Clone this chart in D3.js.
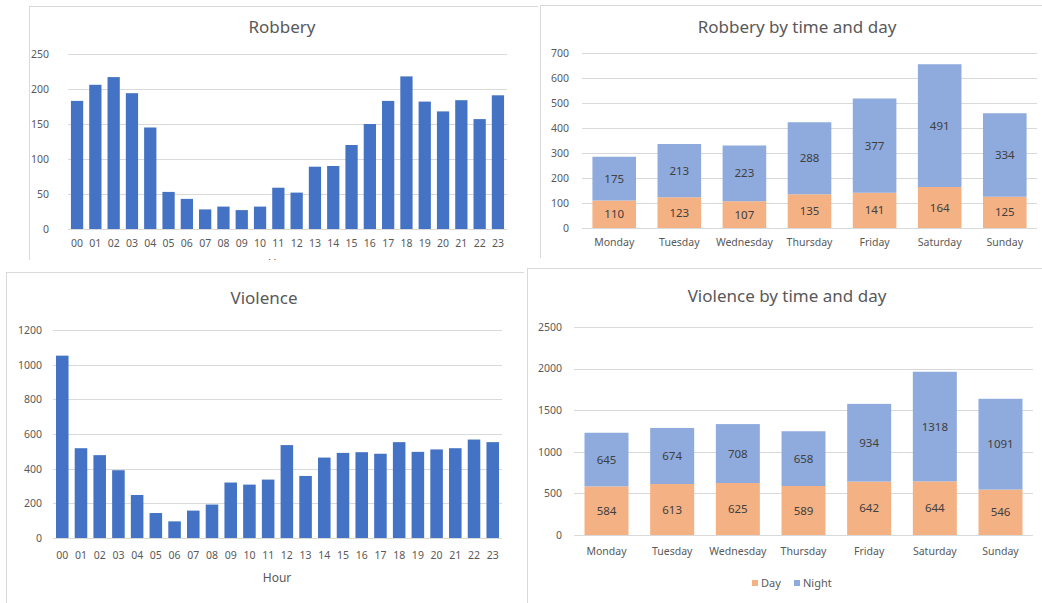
<!DOCTYPE html>
<html>
<head>
<meta charset="utf-8">
<script src="https://cdn.jsdelivr.net/npm/d3@7"></script>
<style>
  body { margin: 0; background: #fff; }
  svg text { font-family: "Noto Sans", "Open Sans", sans-serif; fill: #595959; }
</style>
</head>
<body>
<svg id="chart" width="1042" height="603"></svg>
<script>
// data
const hours = ['00','01','02','03','04','05','06','07','08','09','10','11',
  '12','13','14','15','16','17','18','19','20','21','22','23'];
const robberyByHour = [183, 206, 217, 194, 145, 53, 43, 28, 32, 27, 32, 59,
  52, 89, 90, 120, 150, 183, 218, 182, 168, 184, 157, 191];
const violenceByHour = [1052, 518, 478, 391, 248, 144, 96, 158, 193, 320, 308, 337,
  536, 358, 464, 491, 495, 486, 553, 497, 511, 518, 568, 553];

const days = ['Monday', 'Tuesday', 'Wednesday', 'Thursday', 'Friday', 'Saturday', 'Sunday'];
const robberyDay = [110, 123, 107, 135, 141, 164, 125];
const robberyNight = [175, 213, 223, 288, 377, 491, 334];
const violenceDay = [584, 613, 625, 589, 642, 644, 546];
const violenceNight = [645, 674, 708, 658, 934, 1318, 1091];
const seriesNames = ['Day', 'Night'];

const BLUE = '#4472c4';
const DAY_COLOR = '#f4b183';
const NIGHT_COLOR = '#8faadc';
const GRID = '#d9d9d9';

const svg = d3.select('#chart');

// panel frame + title + y axis with gridlines, returns scales
function panel(p) {
  const g = svg.append('g');
  const clipId = 'clip-' + p.id;
  svg.append('clipPath').attr('id', clipId)
    .append('rect').attr('x', p.frame[0]).attr('y', p.frame[1])
    .attr('width', p.frame[2]).attr('height', p.frame[3]);
  g.attr('clip-path', `url(#${clipId})`);

  g.append('rect')
    .attr('x', p.frame[0] + 0.5).attr('y', p.frame[1] + 0.5)
    .attr('width', p.frame[2]).attr('height', p.frame[3])
    .attr('fill', '#fff').attr('stroke', GRID);

  g.append('text')
    .attr('x', p.titleX).attr('y', p.titleY)
    .attr('text-anchor', 'middle')
    .attr('font-size', 17)
    .text(p.title);

  const x = d3.scaleBand().domain(p.cats).range([p.x0, p.x1]).paddingInner(0.33).paddingOuter(0.16);
  const y = d3.scaleLinear().domain([0, p.ymax]).range([p.y0, p.y1]);
  const ticks = d3.range(0, p.ymax + 1, p.step);

  // gridlines
  g.append('g').selectAll('line').data(ticks).join('line')
    .attr('x1', p.x0).attr('x2', p.x1)
    .attr('y1', d => Math.round(y(d)) + 0.5).attr('y2', d => Math.round(y(d)) + 0.5)
    .attr('stroke', GRID);

  const yAxis = g.append('g')
    .attr('transform', `translate(${p.yLabelX},0)`)
    .call(d3.axisLeft(y).tickValues(ticks).tickFormat(d3.format('d')).tickSize(0).tickPadding(0));
  yAxis.select('.domain').remove();
  yAxis.selectAll('text').attr('font-size', 10.5).attr('fill', '#595959');

  const xAxis = g.append('g')
    .attr('transform', `translate(0,${p.xLabelY})`)
    .call(d3.axisBottom(x).tickSize(0).tickPadding(0));
  xAxis.select('.domain').remove();
  xAxis.selectAll('text').attr('font-size', 10.5).attr('fill', '#595959').attr('dy', '0.32em');

  if (p.xTitle) {
    g.append('text')
      .attr('x', p.xTitleX).attr('y', p.xTitleY)
      .attr('text-anchor', 'middle').attr('dy', '0.35em')
      .attr('font-size', 12)
      .text(p.xTitle);
  }
  return { g, x, y };
}

function simpleBars(p, values) {
  const { g, x, y } = panel(p);
  g.append('g').selectAll('rect').data(values).join('rect')
    .attr('x', (d, i) => x(p.cats[i]))
    .attr('width', x.bandwidth())
    .attr('y', d => y(d))
    .attr('height', d => y(0) - y(d))
    .attr('fill', BLUE);
}

function stackedBars(p, dayVals, nightVals) {
  const { g, x, y } = panel(p);
  const rows = p.cats.map((c, i) => ({ cat: c, Day: dayVals[i], Night: nightVals[i] }));
  const stack = d3.stack().keys(seriesNames)(rows);
  const color = d3.scaleOrdinal().domain(seriesNames).range([DAY_COLOR, NIGHT_COLOR]);

  const layer = g.append('g').selectAll('g').data(stack).join('g')
    .attr('fill', d => color(d.key));
  layer.selectAll('rect').data(d => d).join('rect')
    .attr('x', d => x(d.data.cat))
    .attr('width', x.bandwidth())
    .attr('y', d => y(d[1]))
    .attr('height', d => y(d[0]) - y(d[1]));

  // labels in segment centres
  g.append('g').selectAll('g').data(stack).join('g')
    .selectAll('text').data(d => d.map(v => ({ v, key: d.key }))).join('text')
    .attr('x', d => x(d.v.data.cat) + x.bandwidth() / 2)
    .attr('y', d => y((d.v[0] + d.v[1]) / 2))
    .attr('dy', '0.35em')
    .attr('text-anchor', 'middle')
    .attr('font-size', 11.5)
    .style('fill', '#404040')
    .text(d => d.v.data[d.key]);

  if (p.legendY) {
    const lg = g.append('g').attr('transform', `translate(${p.legendX},${p.legendY})`);
    const items = lg.selectAll('g').data(seriesNames).join('g')
      .attr('transform', (d, i) => `translate(${i * 42},0)`);
    items.append('rect').attr('x', 0).attr('y', -3).attr('width', 6).attr('height', 6)
      .attr('fill', d => color(d));
    items.append('text').attr('x', 9).attr('dy', '0.35em').attr('font-size', 11).text(d => d);
  }
}

simpleBars({
  id: 'rob-hour', title: 'Robbery', cats: hours,
  frame: [29, 6, 509, 254], titleX: 282, titleY: 33,
  x0: 68, x1: 507, y0: 229, y1: 54, ymax: 250, step: 50,
  yLabelX: 49, xLabelY: 244, xTitle: 'Hour', xTitleX: 282, xTitleY: 264
}, robberyByHour);

stackedBars({
  id: 'rob-day', title: 'Robbery by time and day', cats: days,
  frame: [540, 5, 520, 253], titleX: 797, titleY: 33,
  x0: 582, x1: 1037, y0: 228, y1: 53, ymax: 700, step: 100,
  yLabelX: 569, xLabelY: 243
}, robberyDay, robberyNight);

simpleBars({
  id: 'vio-hour', title: 'Violence', cats: hours,
  frame: [6, 272, 518, 340], titleX: 264, titleY: 304,
  x0: 53, x1: 502, y0: 538, y1: 330, ymax: 1200, step: 200,
  yLabelX: 42, xLabelY: 556, xTitle: 'Hour', xTitleX: 277, xTitleY: 578
}, violenceByHour);

stackedBars({
  id: 'vio-day', title: 'Violence by time and day', cats: days,
  frame: [527, 268, 530, 345], titleX: 787, titleY: 302,
  x0: 574, x1: 1033, y0: 535, y1: 327, ymax: 2500, step: 500,
  yLabelX: 562, xLabelY: 552, legendX: 752, legendY: 583
}, violenceDay, violenceNight);
</script>
</body>
</html>
